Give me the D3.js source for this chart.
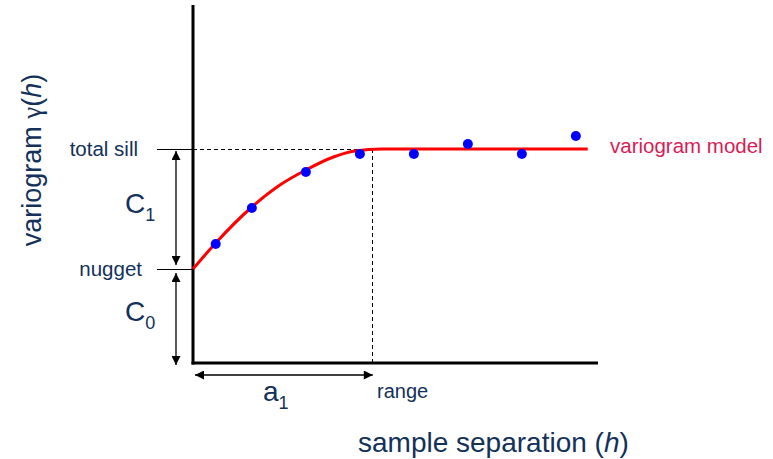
<!DOCTYPE html>
<html>
<head>
<meta charset="utf-8">
<script src="https://cdn.jsdelivr.net/npm/d3@7"></script>
<style>
  body { margin: 0; background: #fff; }
  text { font-family: Arial, "Liberation Sans", sans-serif; }
</style>
</head>
<body>
<div class="canva"></div>
<script>
// observed variogram points (lag, gamma)
const lagH = [0.42, 1.09, 2.09, 3.09, 4.09, 5.09, 6.09, 7.09];
const gammaObs = [1.19, 1.55, 1.91, 2.09, 2.09, 2.19, 2.09, 2.27];

// fitted model
const modelH = [0, 0.42, 1.09, 1.61, 2.09, 2.6, 3.0, 3.5, 7.31];
const modelGamma = [0.94, 1.2, 1.56, 1.78, 1.93, 2.06, 2.12, 2.14, 2.14];

const nugget = 0.94;
const totalSill = 2.14;
const rangeA = 3.33;

const tickValues = [totalSill, nugget];
const tickLabels = ['total sill', 'nugget'];

const ink = '#133159';

const svg = d3.select('.canva').append('svg')
    .attr('width', 773)
    .attr('height', 459);

const x = d3.scaleLinear().domain([0, 7.5]).range([193, 598]);
const y = d3.scaleLinear().domain([0, 3.58]).range([363, 5]);

// arrowheads
const defs = svg.append('defs');
defs.append('marker')
    .attr('id', 'head')
    .attr('viewBox', '0 0 10 10')
    .attr('refX', 10).attr('refY', 5)
    .attr('markerWidth', 10).attr('markerHeight', 9)
    .attr('markerUnits', 'userSpaceOnUse')
    .attr('orient', 'auto-start-reverse')
  .append('path')
    .attr('d', 'M0,0L10,5L0,10Z')
    .attr('fill', '#000');

// left ticks with labels
const yAxis = d3.axisLeft(y)
    .tickValues(tickValues)
    .tickSize(36)
    .tickPadding(17)
    .tickFormat((d, i) => tickLabels[i]);

const gy = svg.append('g')
    .attr('transform', `translate(${x(0)},0)`)
    .call(yAxis);
gy.select('.domain').remove();
gy.selectAll('.tick line').attr('stroke', '#000').attr('stroke-width', 1.2);
gy.selectAll('.tick text')
    .attr('fill', ink)
    .attr('x', (d, i) => i === 0 ? -55 : -51)
    .style('font-size', '20.5px')
    .style('font-family', 'Arial, "Liberation Sans", sans-serif');

// dashed guides
svg.append('line')
    .attr('x1', x(0)).attr('x2', x(rangeA))
    .attr('y1', y(totalSill) + 0.5).attr('y2', y(totalSill) + 0.5)
    .attr('stroke', '#000').attr('stroke-width', 1)
    .attr('shape-rendering', 'crispEdges')
    .attr('stroke-dasharray', '4,3');
svg.append('line')
    .attr('x1', x(rangeA)).attr('x2', x(rangeA))
    .attr('y1', y(totalSill)).attr('y2', y(0))
    .attr('stroke', '#000').attr('stroke-width', 1)
    .attr('shape-rendering', 'crispEdges')
    .attr('stroke-dasharray', '4,3');

// axes lines
svg.append('line')
    .attr('x1', x(0)).attr('x2', x(0))
    .attr('y1', y(3.58)).attr('y2', y(0) + 1.5)
    .attr('stroke', '#000').attr('stroke-width', 3);
svg.append('line')
    .attr('x1', x(0) - 1.5).attr('x2', x(7.5))
    .attr('y1', y(0)).attr('y2', y(0))
    .attr('stroke', '#000').attr('stroke-width', 3);

// double arrows C1, C0, a1
const arrowX = 176;
svg.append('line')
    .attr('x1', arrowX).attr('x2', arrowX)
    .attr('y1', y(totalSill) + 2).attr('y2', y(nugget) - 4)
    .attr('stroke', '#000').attr('stroke-width', 1.3)
    .attr('marker-start', 'url(#head)').attr('marker-end', 'url(#head)');
svg.append('line')
    .attr('x1', arrowX).attr('x2', arrowX)
    .attr('y1', y(nugget) + 4).attr('y2', y(0) + 2)
    .attr('stroke', '#000').attr('stroke-width', 1.3)
    .attr('marker-start', 'url(#head)').attr('marker-end', 'url(#head)');
svg.append('line')
    .attr('x1', x(0) + 2).attr('x2', x(rangeA))
    .attr('y1', 375).attr('y2', 375)
    .attr('stroke', '#000').attr('stroke-width', 1.3)
    .attr('marker-start', 'url(#head)').attr('marker-end', 'url(#head)');

// model curve
const line = d3.line()
    .x(d => x(d[0]))
    .y(d => y(d[1]))
    .curve(d3.curveMonotoneX);

svg.append('path')
    .datum(d3.zip(modelH, modelGamma))
    .attr('d', line)
    .attr('fill', 'none')
    .attr('stroke', '#ff0000')
    .attr('stroke-width', 3);

// observed points
svg.selectAll('circle')
    .data(d3.zip(lagH, gammaObs))
    .enter().append('circle')
    .attr('cx', d => x(d[0]))
    .attr('cy', d => y(d[1]))
    .attr('r', 5)
    .attr('fill', '#0000ff');

// labels
svg.append('text')
    .attr('x', 610).attr('y', 153)
    .attr('fill', '#d81b55')
    .style('font-size', '20.5px')
    .text('variogram model');

const sub = (tx, ty, main, s, size) => {
  const t = svg.append('text')
      .attr('x', tx).attr('y', ty)
      .attr('fill', ink)
      .style('font-size', size + 'px');
  t.append('tspan').text(main);
  t.append('tspan').attr('dy', 8).style('font-size', '18px').text(s);
};
sub(125, 213, 'C', '1', 28);
sub(125, 321, 'C', '0', 28);
sub(263, 401, 'a', '1', 28);

svg.append('text')
    .attr('x', 377).attr('y', 398)
    .attr('fill', ink)
    .style('font-size', '20px')
    .text('range');

const xt = svg.append('text')
    .attr('x', 358).attr('y', 452)
    .attr('fill', ink)
    .style('font-size', '28px');
xt.append('tspan').text('sample separation (');
xt.append('tspan').style('font-style', 'italic').text('h');
xt.append('tspan').text(')');

const yt = svg.append('text')
    .attr('transform', 'translate(41,160) rotate(-90)')
    .attr('text-anchor', 'middle')
    .attr('fill', ink)
    .style('font-size', '27px');
yt.append('tspan').text('variogram ');
yt.append('tspan').style('font-family', '"Liberation Serif", serif').text('γ');
yt.append('tspan').text('(');
yt.append('tspan').style('font-style', 'italic').text('h');
yt.append('tspan').text(')');
</script>
</body>
</html>
